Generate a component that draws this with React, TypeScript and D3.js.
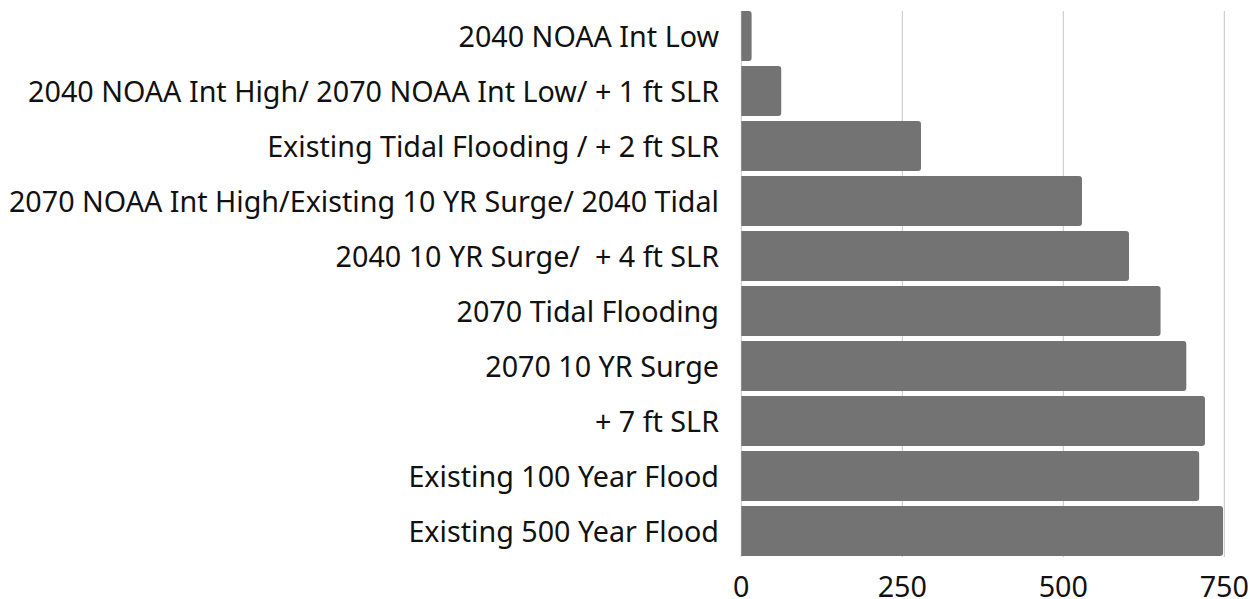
import React from "react";
import * as d3 from "d3";

const categories: string[] = [
  "2040 NOAA Int Low",
  "2040 NOAA Int High/ 2070 NOAA Int Low/ + 1 ft SLR",
  "Existing Tidal Flooding / + 2 ft SLR",
  "2070 NOAA Int High/Existing 10 YR Surge/ 2040 Tidal",
  "2040 10 YR Surge/  + 4 ft SLR",
  "2070 Tidal Flooding",
  "2070 10 YR Surge",
  "+ 7 ft SLR",
  "Existing 100 Year Flood",
  "Existing 500 Year Flood",
];
const values: number[] = [16, 62, 279, 529, 602, 651, 691, 720, 711, 748];
const xTicks: number[] = [0, 250, 500, 750];

const W = 1250;
const H = 599;
const FONT = "'Noto Sans', sans-serif";
const FS = 28.7;

function barPath(x0: number, x1: number, y0: number, h: number, r: number) {
  const rr = Math.min(r, (x1 - x0) / 2, h / 2);
  return `M${x0},${y0}H${x1 - rr}Q${x1},${y0} ${x1},${y0 + rr}V${y0 + h - rr}Q${x1},${y0 + h} ${x1 - rr},${y0 + h}H${x0}Z`;
}

export default function App() {
  const x = d3.scaleLinear().domain([0, 750]).range([741.3, 1224.3]);
  const y = d3
    .scaleBand<string>()
    .domain(categories)
    .range([8.5, 558.5])
    .paddingInner(5 / 55)
    .paddingOuter(2.5 / 55);
  const gridTop = 11;
  const gridBottom = 557;

  return (
    <svg
      width={W}
      height={H}
      style={{ position: "absolute", left: 0, top: 0, background: "#fff" }}
      fontFamily={FONT}
    >
      {xTicks.map((t) => (
        <line
          key={"g" + t}
          x1={x(t)}
          x2={x(t)}
          y1={gridTop}
          y2={gridBottom}
          stroke="#c6c6c6"
          strokeWidth={1}
        />
      ))}
      {categories.map((c, i) => {
        const y0 = y(c)!;
        return (
          <path
            key={"b" + i}
            d={barPath(x(0), x(values[i]), y0, y.bandwidth(), 3)}
            fill="#737373"
          />
        );
      })}
      {categories.map((c, i) => (
        <text
          key={"l" + i}
          x={719}
          y={y(c)! + y.bandwidth() / 2 + 10.5}
          textAnchor="end"
          fontSize={FS}
          fill="#111"
          style={{ whiteSpace: "pre" }}
        >
          {c}
        </text>
      ))}
      {xTicks.map((t) => (
        <text
          key={"t" + t}
          x={x(t)}
          y={596.5}
          textAnchor="middle"
          fontSize={FS}
          fill="#111"
        >
          {t}
        </text>
      ))}
    </svg>
  );
}
